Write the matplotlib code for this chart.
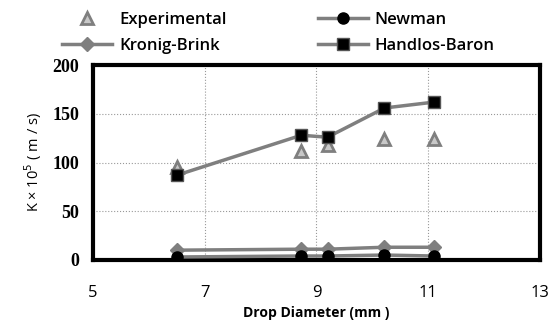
import matplotlib.pyplot as plt
import numpy as np

# drop diameter (mm)
d = [6.5, 8.73, 9.2, 10.22, 11.1]

experimental = [95, 112, 118, 124, 124]
newman = [3, 4, 4, 5, 4]
kronig_brink = [10, 11, 11, 13, 13]
handlos_baron = [87, 128, 126, 156, 162]

line_col = '#7f7f7f'

fig = plt.figure(figsize=(5.57, 3.29), dpi=100)
ax = fig.add_axes([0.167, 0.21, 0.802, 0.592])

ax.plot(d, kronig_brink, color=line_col, lw=2.5, marker='D', ms=7,
        mfc=line_col, mec=line_col, label='Kronig-Brink', zorder=3)
ax.plot(d, newman, color=line_col, lw=2.5, marker='o', ms=8,
        mfc='black', mec='black', label='Newman', zorder=3)
ax.plot(d, handlos_baron, color=line_col, lw=2.5, marker='s', ms=8,
        mfc='black', mec='#555555', label='Handlos-Baron', zorder=4)
ax.plot(d, experimental, ls='none', marker='^', ms=9, mfc='#c8c8c8',
        mec=line_col, mew=2, label='Experimental', zorder=3)

ax.set_xlim(5, 13)
ax.set_ylim(0, 200)
ax.set_xticks([5, 7, 9, 11, 13])
ax.set_yticks([0, 50, 100, 150, 200])
ax.grid(True, ls=':', color='#999999', lw=0.8)
ax.tick_params(length=0)
ax.tick_params(axis='x', pad=18, labelsize=12)
ax.tick_params(axis='y', pad=10, labelsize=13)
for lab in ax.get_yticklabels():
    lab.set_family('Liberation Serif')
    lab.set_fontweight('bold')
for lab in ax.get_xticklabels():
    lab.set_family('Open Sans')

for s in ax.spines.values():
    s.set_linewidth(3)
    s.set_color('black')

ax.set_xlabel('Drop Diameter (mm )', fontsize=10, fontweight='bold', family='Open Sans', labelpad=4)
ax.set_ylabel('K × 10$^5$ ( m / s)', fontsize=10.5, family='Open Sans', labelpad=6)

h, l = ax.get_legend_handles_labels()
order = [3, 0, 1, 2]
fig.legend([h[i] for i in order], [l[i] for i in order], ncol=2,
           loc='upper center', bbox_to_anchor=(0.5, 1.01), frameon=False,
           prop={'family': 'Open Sans', 'weight': 'semibold', 'size': 12},
           columnspacing=5.5, handlelength=3, labelspacing=0.6, handletextpad=0.4)

fig.savefig('out.png', dpi=100)
